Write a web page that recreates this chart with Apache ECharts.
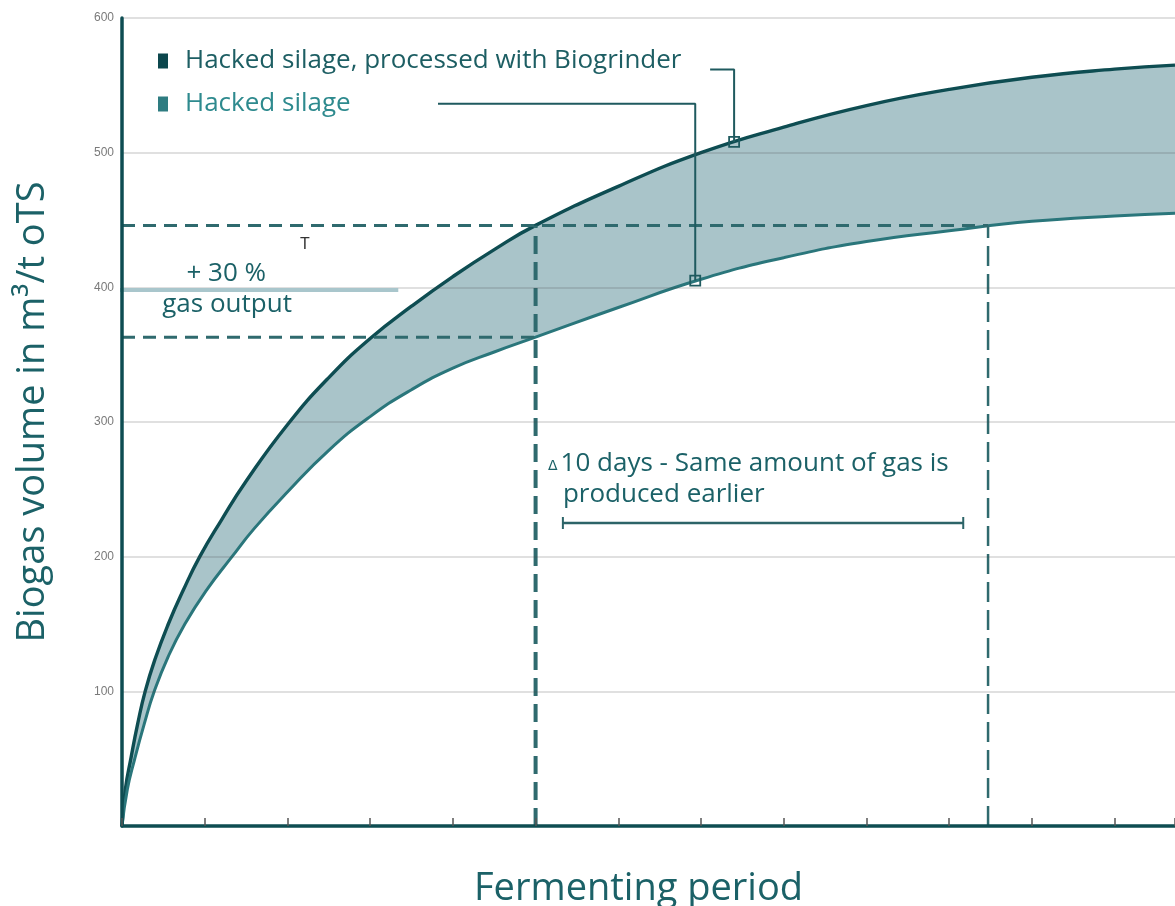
<!DOCTYPE html>
<html>
<head>
<meta charset="utf-8">
<script src="https://cdn.jsdelivr.net/npm/echarts@6/dist/echarts.min.js"></script>
<style>html,body{margin:0;padding:0;background:#fff;}#c{width:1175px;height:906px;}</style>
</head>
<body>
<div id="c"></div>
<script>
// Fermenting period (x, in tick units) and biogas volume (m³/t oTS)
const daysBiogrinder = [0, 0.04, 0.11, 0.19, 0.28, 0.40, 0.56, 0.74, 0.94, 1.2, 1.5, 2.0, 2.5, 3.0, 3.5, 4.0, 4.5, 5.0, 6.0, 7.0, 8.0, 9.0, 10.0, 11.0, 12.0, 12.73];
const biogrinder = [0, 27, 51, 76, 100, 124, 150, 175, 200, 227, 256, 298, 333, 362, 386, 408, 428, 446, 475, 500, 519, 535, 547, 556, 562, 565];
const daysHacked = [0, 0.064, 0.15, 0.27, 0.39, 0.56, 0.76, 1.02, 1.33, 1.6, 2.0, 2.5, 3.0, 3.5, 4.0, 4.5, 5.0, 6.0, 7.0, 8.0, 9.0, 10.0, 11.0, 12.0, 12.73];
const hacked = [0, 27, 49, 76, 100, 126, 150, 175, 200, 221, 248, 279, 304, 324, 340, 352, 363, 385, 406, 422, 434, 442, 449, 453, 455];
const seriesNames = ['Hacked silage, processed with Biogrinder', 'Hacked silage'];
const yTickValues = [100, 200, 300, 400, 500, 600];

// Reference levels
const gasLevelHigh = 446;   // same gas amount
const gasLevelLow = 363;    // hacked silage at early day
const dayEarly = 5.0;
const dayLate = 10.47;
const gainLevel = 398;      // +30% separator

const C_DARK = '#0e4d52', C_MID = '#2a767b', C_FILL = '#a9c4c9', C_DASH = '#2f6a6e', C_TEXT = '#1b6167';

const chart = echarts.init(document.getElementById('c'));
const pts = (xs, ys) => xs.map((d, i) => [d, ys[i]]);

function dashed(name, data, w, dash) {
  return { type: 'line', name, data, symbol: 'none', silent: true, z: 4,
    lineStyle: { color: C_DASH, width: w, type: dash } };
}
function callout(data) {
  const d = data.slice(0, -1).concat([{ value: data[data.length - 1], symbol: 'rect', symbolSize: 10,
    itemStyle: { color: 'rgba(0,0,0,0)', borderColor: '#1f5a5f', borderWidth: 1.8 } }]);
  return { type: 'line', data: d, symbol: 'none', showSymbol: true, silent: true, z: 6,
    lineStyle: { color: '#1f5a5f', width: 2 } };
}

chart.setOption({
  animation: false,
  textStyle: { fontFamily: 'Open Sans' },
  grid: { left: 122, right: 0, top: 18, bottom: 80, containLabel: false, outerBoundsMode: 'none' },
  legend: {
    left: 153, top: 43, orient: 'vertical', itemWidth: 10, itemHeight: 15, itemGap: 17,
    selectedMode: false,
    textStyle: { fontSize: 26, lineHeight: 22, padding: [0, 0, 0, 12], fontFamily: 'Open Sans' },
    data: [
      { name: seriesNames[0], icon: 'rect', itemStyle: { color: '#0c474d' }, textStyle: { color: '#1d5e63' } },
      { name: seriesNames[1], icon: 'rect', itemStyle: { color: '#2e7c81' }, textStyle: { color: '#2e8a8e' } }
    ]
  },
  xAxis: {
    type: 'value', min: 0, max: 12.73, interval: 1, z: 10,
    name: 'Fermenting period', nameLocation: 'middle', nameGap: 44,
    nameTextStyle: { fontSize: 38, color: C_TEXT, padding: [0, 20, 0, 0], fontFamily: 'Open Sans' },
    axisLine: { lineStyle: { color: C_DARK, width: 3.5 } },
    axisTick: { inside: true, length: 8, lineStyle: { color: '#555', width: 1.5 } },
    axisLabel: { show: false }, splitLine: { show: false }
  },
  yAxis: {
    type: 'value', min: 0, max: 600, interval: 100, z: 10,
    name: 'Biogas volume in m³/t oTS', nameLocation: 'middle', nameGap: 70,
    nameTextStyle: { fontSize: 38, color: C_TEXT, padding: [0, 0, 0, 20], fontFamily: 'Open Sans' },
    axisLine: { show: true, lineStyle: { color: C_DARK, width: 3.5 } },
    axisTick: { show: false },
    axisLabel: { color: '#7a7a7a', fontSize: 12, margin: 8, fontFamily: 'Liberation Sans',
      formatter: v => (yTickValues.indexOf(v) >= 0 ? String(v) : '') },
    splitLine: { show: false }
  },
  series: [
    { type: 'line', name: seriesNames[0], data: pts(daysBiogrinder, biogrinder), symbol: 'none',
      smooth: 0.5, z: 2, itemStyle: { color: '#0c474d' },
      lineStyle: { color: C_DARK, width: 3.4 }, areaStyle: { color: C_FILL, opacity: 1 } },
    { type: 'line', name: seriesNames[1], data: pts(daysHacked, hacked), symbol: 'none',
      smooth: 0.5, z: 2, itemStyle: { color: '#2e7c81' },
      lineStyle: { color: C_MID, width: 3 }, areaStyle: { color: '#ffffff', opacity: 1 } },
    { type: 'line', name: 'grid', data: [], symbol: 'none', silent: true, z: 3,
      markLine: { silent: true, symbol: 'none', label: { show: false },
        lineStyle: { color: 'rgba(70,70,70,0.22)', width: 1.5, type: 'solid' },
        data: yTickValues.map(v => ({ yAxis: v })) } },
    dashed('level-high', [[0, gasLevelHigh], [dayLate, gasLevelHigh]], 3, [13, 8]),
    dashed('level-low', [[0, gasLevelLow], [dayEarly, gasLevelLow]], 3, [13, 8]),
    dashed('day-early', [[dayEarly, 0], [dayEarly, gasLevelHigh]], 4, [18, 8]),
    dashed('day-late', [[dayLate, 0], [dayLate, gasLevelHigh]], 2.5, [20, 8]),
    { type: 'line', data: [[-0.085, gainLevel], [3.34, gainLevel]], symbol: 'none', clip: false, silent: true, z: 5,
      lineStyle: { color: '#a9c6cc', width: 4 } },
    callout([[7.11, 561.7], [7.4, 561.7], [7.4, 508]]),
    callout([[3.82, 536.4], [6.93, 536.4], [6.93, 405]]),
    { type: 'line', data: [{ value: [5.33, 225] }, { value: [10.17, 225] }], symbol: 'rect', symbolSize: [2, 12],
      showSymbol: true, silent: true, z: 5, itemStyle: { color: '#2c6468' },
      lineStyle: { color: '#2c6468', width: 2.5 } }
  ]
});

const px = (x, y) => chart.convertToPixel({ gridIndex: 0 }, [x, y]);
const txt = (x, y, text, opts) => {
  const p = px(x, y);
  return { type: 'text', x: p[0], y: p[1], z: 10, silent: true,
    style: Object.assign({ text, fill: C_TEXT, font: '26px "Open Sans"', align: 'center', verticalAlign: 'middle' }, opts || {}) };
};
const p1 = px(5.15, 269);
chart.setOption({
  graphic: [
    txt(1.26, 410.5, '+ 30 %'),
    txt(1.27, 387, 'gas output'),
    txt(2.21, 432, 'T', { font: '16px "Liberation Sans"', fill: '#333' }),
    { type: 'text', x: p1[0], y: p1[1], z: 10, silent: true,
      style: { text: '{d|Δ}{t|10 days - Same amount of gas is}', align: 'left', verticalAlign: 'middle',
        rich: { d: { fontSize: 14, fill: C_TEXT, fontFamily: 'DejaVu Sans', padding: [5, 3, 0, 0] },
                t: { fontSize: 26, fill: C_TEXT, fontFamily: 'Open Sans' } } } },
    txt(5.33, 246, 'produced earlier', { align: 'left' })
  ]
});
</script>
</body>
</html>
